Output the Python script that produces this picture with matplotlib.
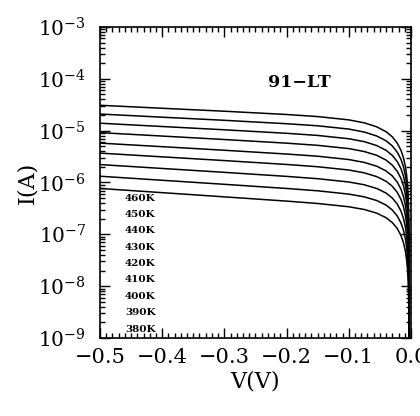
import numpy as np
import matplotlib
matplotlib.use("Agg")
import matplotlib.pyplot as plt
from matplotlib.ticker import MultipleLocator, LogLocator, NullFormatter

plt.rcParams['font.family'] = ['DejaVu Serif']
plt.rcParams['mathtext.fontset'] = 'dejavuserif'

# Bias voltage (V) sample points
V = [-0.5, -0.4, -0.3, -0.2, -0.15, -0.1, -0.075, -0.055, -0.04, -0.03, -0.022,
     -0.016, -0.012, -0.009, -0.007, -0.0055, -0.0045, -0.004, -0.0035, -0.0032,
     -0.0031, -0.003]

# log10 of current (A), one list per temperature
log10_I_460K = [-4.510, -4.568, -4.625, -4.688, -4.728, -4.792, -4.849, -4.926, -5.020, -5.119, -5.241,
                -5.381, -5.525, -5.687, -5.856, -6.053, -6.271, -6.445, -6.744, -7.139, -7.440, -10]
log10_I_450K = [-4.679, -4.740, -4.800, -4.866, -4.906, -4.969, -5.027, -5.103, -5.196, -5.295, -5.416,
                -5.555, -5.698, -5.861, -6.030, -6.226, -6.443, -6.617, -6.915, -7.310, -7.611, -10]
log10_I_440K = [-4.856, -4.920, -4.983, -5.051, -5.092, -5.156, -5.212, -5.288, -5.380, -5.477, -5.598,
                -5.737, -5.880, -6.042, -6.210, -6.407, -6.624, -6.797, -7.095, -7.490, -7.791, -10]
log10_I_430K = [-5.038, -5.104, -5.171, -5.241, -5.283, -5.346, -5.403, -5.476, -5.568, -5.666, -5.785,
                -5.924, -6.066, -6.228, -6.396, -6.592, -6.809, -6.982, -7.280, -7.675, -7.976, -10]
log10_I_420K = [-5.240, -5.309, -5.378, -5.451, -5.493, -5.557, -5.613, -5.686, -5.777, -5.874, -5.993,
                -6.132, -6.274, -6.436, -6.604, -6.801, -7.017, -7.190, -7.489, -7.884, -8.185, -10]
log10_I_410K = [-5.433, -5.505, -5.577, -5.652, -5.696, -5.759, -5.814, -5.887, -5.977, -6.073, -6.191,
                -6.328, -6.469, -6.631, -6.799, -6.995, -7.211, -7.385, -7.683, -8.078, -8.379, -10]
log10_I_400K = [-5.654, -5.729, -5.804, -5.882, -5.927, -5.990, -6.044, -6.116, -6.204, -6.300, -6.417,
                -6.554, -6.695, -6.856, -7.024, -7.219, -7.436, -7.609, -7.907, -8.302, -8.603, -10]
log10_I_390K = [-5.879, -5.957, -6.035, -6.115, -6.160, -6.224, -6.277, -6.348, -6.436, -6.531, -6.647,
                -6.784, -6.924, -7.085, -7.253, -7.449, -7.665, -7.838, -8.136, -8.531, -8.832, -10]
log10_I_380K = [-6.115, -6.196, -6.277, -6.359, -6.405, -6.468, -6.521, -6.592, -6.679, -6.773, -6.888,
                -7.025, -7.164, -7.326, -7.493, -7.688, -7.904, -8.077, -8.375, -8.770, -9.071, -10]

temperatures = ["460K", "450K", "440K", "430K", "420K", "410K", "400K", "390K", "380K"]
series = [log10_I_460K, log10_I_450K, log10_I_440K, log10_I_430K, log10_I_420K,
          log10_I_410K, log10_I_400K, log10_I_390K, log10_I_380K]

fig = plt.figure(figsize=(4.2, 4.16), dpi=100)
ax = fig.add_axes([0.238, 0.1875, 0.7405, 0.7476])

for s in series:
    ax.plot(V, 10.0 ** np.array(s), color="black", lw=1.1, solid_capstyle="butt")

ax.set_yscale("log")
ax.set_xlim(-0.5, 0.0)
ax.set_ylim(1e-9, 1e-3)

ax.xaxis.set_major_locator(MultipleLocator(0.1))
ax.xaxis.set_minor_locator(MultipleLocator(0.01))
ax.yaxis.set_major_locator(LogLocator(base=10, numticks=20))
ax.yaxis.set_minor_locator(LogLocator(base=10, subs=np.arange(2, 10), numticks=20))
ax.yaxis.set_minor_formatter(NullFormatter())

ax.tick_params(which="both", direction="in", top=True, right=True, width=1.0)
ax.tick_params(which="major", length=7)
ax.tick_params(which="minor", length=3.5)
ax.tick_params(axis="x", which="major", labelsize=15, pad=7)
ax.tick_params(axis="y", which="major", labelsize=14.5, pad=10)
for sp in ax.spines.values():
    sp.set_linewidth(1.2)

ax.set_xlabel("V(V)", fontsize=16, labelpad=3)
ax.set_ylabel("I(A)", fontsize=16, labelpad=0)

ax.text(0.64, 0.823, "91\u2212LT", transform=ax.transAxes, fontsize=12.5,
        ha="center", va="center", fontweight="semibold")

for k, t in enumerate(temperatures):
    ax.text(0.080, 0.450 - 0.0527 * k, t, transform=ax.transAxes, fontsize=7.5,
            ha="left", va="center", fontweight="bold")

fig.savefig("out.png", dpi=100)
